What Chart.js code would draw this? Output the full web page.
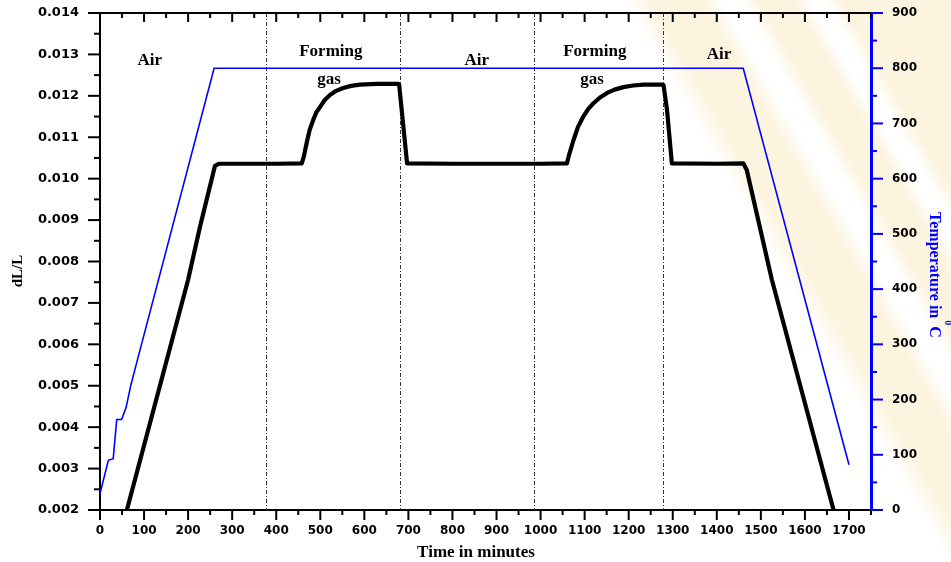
<!DOCTYPE html>
<html>
<head>
<meta charset="utf-8">
<script src="https://cdn.jsdelivr.net/npm/chart.js@4/dist/chart.umd.min.js"></script>
<style>
html,body{margin:0;padding:0;background:#fff;}
#wrap{position:relative;width:951px;height:562px;
background:linear-gradient(60deg, rgba(255,255,255,0) 0px, rgba(255,255,255,0) 822px, #fdf4e0 845px, #fdf4e0 888px, rgba(255,255,255,0) 906px, rgba(255,255,255,0) 922px, #fdf4e0 938px, #fdf4e0 968px, rgba(255,255,255,0) 982px, rgba(255,255,255,0) 994px, #fdf4e0 1010px, #fdf4e0 1105px);}
canvas{display:block;}
</style>
</head>
<body>
<div id="wrap"><canvas id="c" width="951" height="562"></canvas></div>
<script>
// ---- data ----
const timeDL = [61, 200, 227, 261, 270, 300, 400, 458, 463, 469, 476, 484, 491, 500, 510, 522, 536, 552, 570, 590, 628, 677,
                679, 697, 800, 900, 1000, 1060, 1064, 1075, 1085, 1097, 1108, 1120, 1135, 1151, 1168, 1188, 1210, 1234, 1275,
                1279, 1287, 1298, 1400, 1460, 1468, 1525, 1665];
const dLL = [0.00200, 0.00756, 0.00884, 0.01031, 0.01036, 0.01036, 0.01036, 0.01037, 0.01055, 0.01086, 0.01118, 0.01142, 0.01160, 0.01174, 0.01190, 0.01202, 0.01212, 0.01219, 0.01224, 0.01227, 0.01229, 0.01229,
             0.01227, 0.01037, 0.01036, 0.01036, 0.01036, 0.01037, 0.01055, 0.01094, 0.01125, 0.01150, 0.01168, 0.01182, 0.01196, 0.01207, 0.01215, 0.01221, 0.01225, 0.01227, 0.01227,
             0.01226, 0.01166, 0.01037, 0.01036, 0.01037, 0.01021, 0.00756, 0.00200];

const timeT = [0, 19, 30, 38, 49, 59, 70, 83, 259, 1460, 1700];
const tempC = [30, 90, 93, 164, 164, 185, 226, 266, 800, 800, 82];

const xTickValues = [0,100,200,300,400,500,600,700,800,900,1000,1100,1200,1300,1400,1500,1600,1700];
const yTickValues = [0.002,0.003,0.004,0.005,0.006,0.007,0.008,0.009,0.010,0.011,0.012,0.013,0.014];
const y2TickValues = [0,100,200,300,400,500,600,700,800,900];

const phaseBoundaries = [377, 682, 986, 1279];
const phaseNames = ['Air', 'Forming', 'gas', 'Air', 'Forming', 'gas', 'Air'];
const phaseNameTime = [113, 524, 520, 855, 1123, 1117, 1405];
const phaseNameLevel = [0.01275, 0.01295, 0.01229, 0.01275, 0.01295, 0.01229, 0.01288];

const xTitle = 'Time in minutes';
const yTitle = 'dL/L';
const y2Title = 'Temperature in';
const y2Unit = 'C';
const y2Sup = '0';

// ---- chart ----
const serif = '"Liberation Serif", "Times New Roman", serif';
const sans = '"DejaVu Sans", sans-serif';

const decor = {
  id: 'decor',
  beforeDatasetsDraw(chart) {
    const {ctx, chartArea: a, scales: {x}} = chart;
    ctx.save();
    ctx.strokeStyle = '#333';
    ctx.lineWidth = 1;
    ctx.setLineDash([4, 2, 1, 2]);
    phaseBoundaries.forEach(v => {
      const px = Math.round(x.getPixelForValue(v)) + 0.5;
      ctx.beginPath(); ctx.moveTo(px, a.top); ctx.lineTo(px, a.bottom); ctx.stroke();
    });
    ctx.restore();
  },
  afterDraw(chart) {
    const {ctx, chartArea: a, scales: {x, y, y2}} = chart;
    ctx.save();
    ctx.strokeStyle = '#000'; ctx.lineWidth = 2;
    ctx.beginPath(); ctx.moveTo(a.left - 1, a.top); ctx.lineTo(a.right, a.top); ctx.stroke();
    for (let v = x.min; v <= x.max; v += 50) {
      const px = x.getPixelForValue(v);
      const major = v % 100 === 0;
      ctx.beginPath();
      ctx.moveTo(px, a.bottom); ctx.lineTo(px, a.bottom + (major ? 10 : 5));
      ctx.moveTo(px, a.top); ctx.lineTo(px, a.top + (major ? 9 : 5));
      ctx.stroke();
    }
    for (let i = 4; i <= 28; i++) {
      const py = y.getPixelForValue(i * 0.0005);
      const major = i % 2 === 0;
      ctx.beginPath(); ctx.moveTo(a.left - (major ? 12 : 6), py); ctx.lineTo(a.left, py); ctx.stroke();
    }
    ctx.strokeStyle = '#0000ff';
    for (let v = y2.min; v <= y2.max; v += 50) {
      const py = y2.getPixelForValue(v);
      const major = v % 100 === 0;
      ctx.beginPath(); ctx.moveTo(a.right, py); ctx.lineTo(a.right + (major ? 12 : 6), py); ctx.stroke();
    }
    ctx.fillStyle = '#000';
    ctx.font = 'bold 17px ' + serif;
    ctx.textAlign = 'center'; ctx.textBaseline = 'alphabetic';
    phaseNames.forEach((t, i) => {
      ctx.fillText(t, x.getPixelForValue(phaseNameTime[i]), y.getPixelForValue(phaseNameLevel[i]));
    });
    ctx.font = 'bold 17px ' + serif;
    ctx.fillText(xTitle, 476, 557);
    ctx.save();
    ctx.translate(21.5, 271);
    ctx.rotate(-Math.PI / 2);
    ctx.font = 'bold 15px ' + serif;
    ctx.fillText(yTitle, 0, 0);
    ctx.restore();
    ctx.save();
    ctx.translate(930, 212);
    ctx.rotate(Math.PI / 2);
    ctx.fillStyle = '#0000ff';
    ctx.textAlign = 'left';
    ctx.font = 'bold 16px ' + serif;
    const w = ctx.measureText(y2Title).width;
    ctx.fillText(y2Title, 0, 0);
    ctx.font = 'bold 10px ' + serif;
    ctx.fillText(y2Sup, w + 2, -15);
    ctx.font = 'bold 16px ' + serif;
    ctx.fillText(y2Unit, w + 8, 0);
    ctx.restore();
    ctx.restore();
  }
};

const noPadV = s => { s.paddingTop = 0; s.paddingBottom = 0; };

new Chart(document.getElementById('c'), {
  type: 'line',
  data: {
    datasets: [
      {
        label: 'Temperature',
        data: timeT.map((t, i) => ({x: t, y: tempC[i]})),
        yAxisID: 'y2',
        borderColor: '#0000ff',
        borderWidth: 1.6,
        pointRadius: 0,
        tension: 0,
        fill: false
      },
      {
        label: 'dL/L',
        data: timeDL.map((t, i) => ({x: t, y: dLL[i]})),
        yAxisID: 'y',
        borderColor: '#000',
        borderWidth: 4.2,
        borderJoinStyle: 'round',
        pointRadius: 0,
        tension: 0,
        fill: false
      }
    ]
  },
  options: {
    responsive: false,
    animation: false,
    devicePixelRatio: 1,
    layout: {padding: {top: 13, left: 0, right: 0, bottom: 0}},
    plugins: {legend: {display: false}, tooltip: {enabled: false}},
    scales: {
      x: {
        type: 'linear', position: 'bottom', min: 0, max: 1750,
        afterBuildTicks: s => { s.ticks = xTickValues.map(v => ({value: v})); },
        afterFit: s => { s.height = 52; s.paddingLeft = 0; s.paddingRight = 0; },
        grid: {display: false, drawTicks: false},
        border: {display: true, color: '#000', width: 2},
        ticks: {autoSkip: false, maxRotation: 0, padding: 14, color: '#000',
                font: {family: sans, weight: 'bold', size: 12}, callback: v => String(v)}
      },
      y: {
        type: 'linear', position: 'left', min: 0.002, max: 0.014,
        afterBuildTicks: s => { s.ticks = yTickValues.map(v => ({value: v})); },
        afterFit: s => { s.width = 100; noPadV(s); },
        grid: {display: false, drawTicks: false},
        border: {display: true, color: '#000', width: 2},
        ticks: {padding: 21, color: '#000', font: {family: sans, weight: 'bold', size: 13},
                callback: v => Number(v).toFixed(3)}
      },
      y2: {
        type: 'linear', position: 'right', min: 0, max: 900,
        afterBuildTicks: s => { s.ticks = y2TickValues.map(v => ({value: v})); },
        afterFit: s => { s.width = 80; noPadV(s); },
        grid: {display: false, drawTicks: false},
        border: {display: true, color: '#0000ff', width: 3},
        ticks: {padding: 21, color: '#000', font: {family: sans, weight: 'bold', size: 12},
                callback: v => String(v)}
      }
    }
  },
  plugins: [decor]
});
</script>
</body>
</html>
